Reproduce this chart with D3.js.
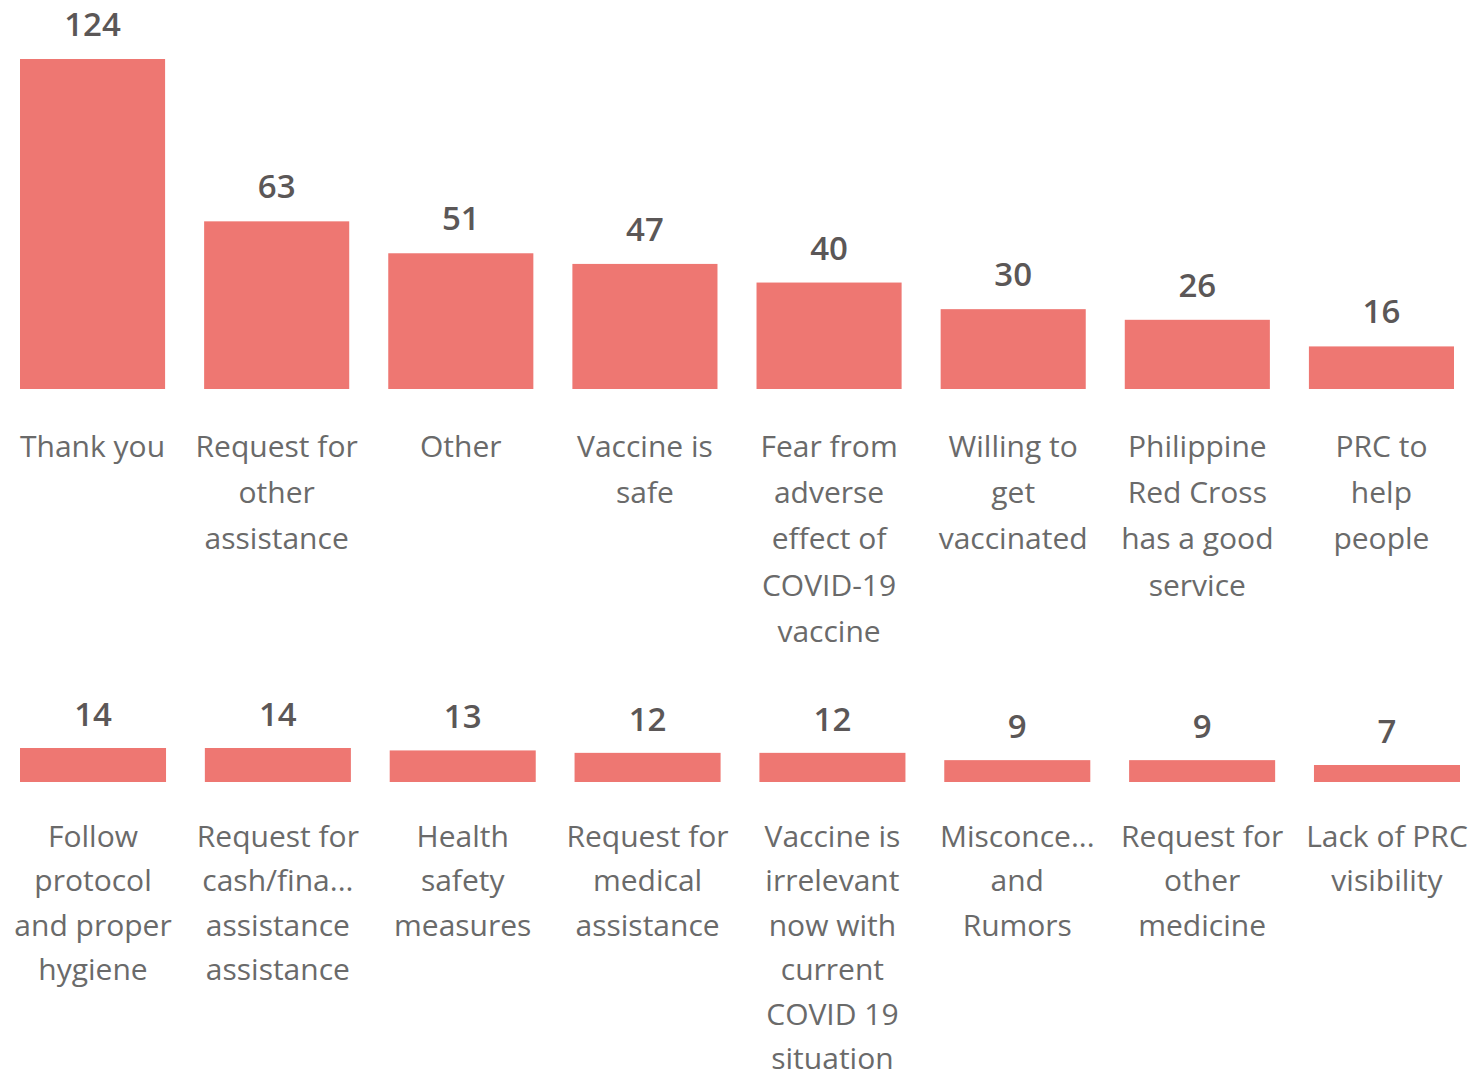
<!DOCTYPE html>
<html>
<head>
<meta charset="utf-8">
<script src="https://cdn.jsdelivr.net/npm/d3@7/dist/d3.min.js"></script>
<style>
  html, body { margin: 0; padding: 0; background: #ffffff; }
  svg { display: block; }
</style>
</head>
<body>
<svg id="chart" width="1482" height="1075"></svg>
<script>
// Feedback themes, top eight (first row) — "|" marks a line break in the label
const topCategories = [
  "Thank you",
  "Request for|other|assistance",
  "Other",
  "Vaccine is|safe",
  "Fear from|adverse|effect of|COVID-19|vaccine",
  "Willing to|get|vaccinated",
  "Philippine|Red Cross|has a good|service",
  "PRC to|help|people"
];
const topValues = [124, 63, 51, 47, 40, 30, 26, 16];

// Remaining eight themes (second row)
const bottomCategories = [
  "Follow|protocol|and proper|hygiene",
  "Request for|cash/fina...|assistance|assistance",
  "Health|safety|measures",
  "Request for|medical|assistance",
  "Vaccine is|irrelevant|now with|current|COVID 19|situation",
  "Misconce...|and|Rumors",
  "Request for|other|medicine",
  "Lack of PRC|visibility"
];
const bottomValues = [14, 14, 13, 12, 12, 9, 9, 7];

const BAR_COLOR = "#ee7772";
const VALUE_COLOR = "#5b5757";
const LABEL_COLOR = "#6a6a6a";
const FONT = "'Open Sans', 'Noto Sans', sans-serif";

const svg = d3.select("#chart");

function drawRow(cats, vals, opt) {
  const g = svg.append("g");
  const x = d3.scaleBand()
    .domain(cats)
    .range([opt.x0, opt.x1])
    .paddingInner(opt.padInner)
    .paddingOuter(0);
  const y = d3.scaleLinear()
    .domain([0, opt.yMax])
    .range([opt.baseline, opt.baseline - opt.yHeight]);

  const rows = cats.map((c, i) => ({ cat: c, val: vals[i] }));

  g.selectAll("rect.bar")
    .data(rows)
    .join("rect")
    .attr("class", "bar")
    .attr("x", d => x(d.cat))
    .attr("width", x.bandwidth())
    .attr("y", d => y(d.val))
    .attr("height", d => y(0) - y(d.val))
    .attr("fill", BAR_COLOR);

  g.selectAll("text.value")
    .data(rows)
    .join("text")
    .attr("class", "value")
    .attr("x", d => x(d.cat) + x.bandwidth() / 2)
    .attr("y", d => y(d.val) - opt.valueGap)
    .attr("text-anchor", "middle")
    .attr("font-family", FONT)
    .attr("font-size", 33)
    .attr("font-weight", 600)
    .attr("fill", VALUE_COLOR)
    .text(d => d.val);

  const labels = g.selectAll("text.cat")
    .data(rows)
    .join("text")
    .attr("class", "cat")
    .attr("text-anchor", "middle")
    .attr("font-family", FONT)
    .attr("font-size", 30)
    .attr("fill", LABEL_COLOR);

  labels.each(function (d) {
    const t = d3.select(this);
    const cx = x(d.cat) + x.bandwidth() / 2;
    d.cat.split("|").forEach((line, i) => {
      t.append("tspan")
        .attr("x", cx)
        .attr("y", opt.labelBaseline + i * opt.lineHeight)
        .text(line);
    });
  });
}

drawRow(topCategories, topValues, {
  x0: 20, x1: 1454, padInner: 0.212,
  baseline: 389, yMax: 124, yHeight: 330,
  valueGap: 23, labelBaseline: 457, lineHeight: 46.2
});

drawRow(bottomCategories, bottomValues, {
  x0: 20, x1: 1460, padInner: 0.21,
  baseline: 782, yMax: 14, yHeight: 34,
  valueGap: 22, labelBaseline: 847, lineHeight: 44.4
});
</script>
</body>
</html>
